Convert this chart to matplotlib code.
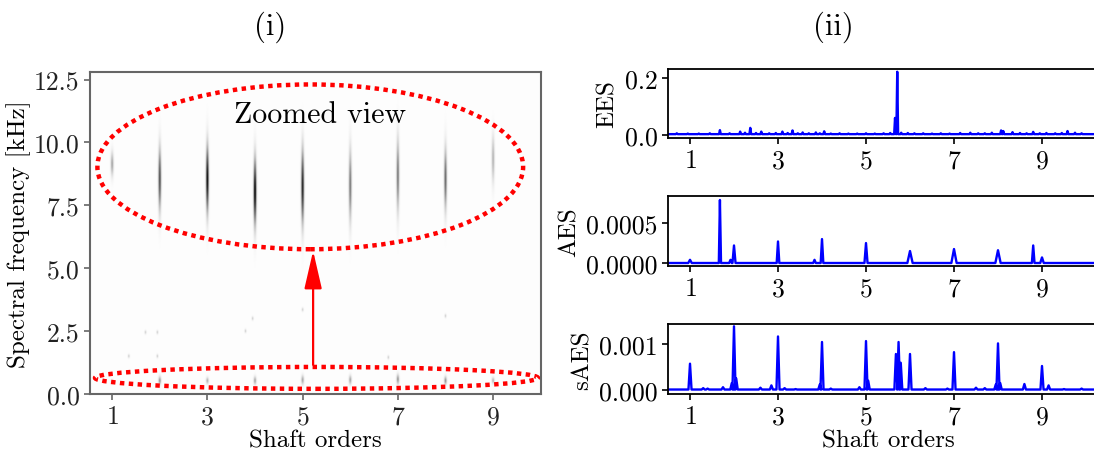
import numpy as np
import matplotlib
matplotlib.use('Agg')
import matplotlib.pyplot as plt
from matplotlib.patches import Ellipse

plt.rcParams['font.family'] = 'serif'
plt.rcParams['font.serif'] = ['cmr10']
plt.rcParams['mathtext.fontset'] = 'cm'
plt.rcParams['axes.formatter.use_mathtext'] = True
plt.rcParams['font.size'] = 18
plt.rcParams['xtick.labelsize'] = 18.5
plt.rcParams['ytick.labelsize'] = 18.5

# --- (i) spectral map: streaks at shaft orders ---
streak_order = [1, 2, 3, 4, 5, 6, 7, 8, 9]
streak_lo = [8.5, 6.9, 6.8, 6.3, 6.3, 6.4, 6.8, 6.9, 8.1]
streak_hi = [9.8, 10.2, 10.3, 9.8, 10.2, 10.2, 10.6, 10.2, 10.6]
streak_level = [0.45, 0.75, 0.95, 1.0, 0.9, 0.6, 0.6, 0.65, 0.4]

low_order = [1, 2, 3, 4, 5, 6, 7, 8, 9]
low_lo = [0.35, 0.3, 0.35, 0.3, 0.3, 0.3, 0.3, 0.3, 0.35]
low_hi = [0.6, 0.75, 0.7, 0.75, 0.8, 0.8, 0.85, 0.75, 0.7]
low_level = [0.25, 0.5, 0.4, 0.45, 0.45, 0.45, 0.5, 0.5, 0.4]

dot_x = [1.35, 1.7, 1.95, 1.95, 3.8, 3.95, 5.0, 6.8, 8.0]
dot_y = [1.5, 2.45, 2.45, 1.5, 2.5, 3.0, 3.35, 1.45, 3.1]

# --- (ii) spectra: peak positions and heights ---
ees_pos = [0.7, 0.95, 1.2, 1.45, 1.68, 1.9, 2.14, 2.25, 2.37, 2.5, 2.62, 2.8, 2.95, 3.1,
           3.22, 3.33, 3.45, 3.56, 3.7, 3.86, 3.95, 4.05, 4.2, 4.4, 4.6, 4.8, 5.0, 5.2,
           5.4, 5.55, 5.66, 5.71, 5.8, 5.95, 6.1, 6.3, 6.5, 6.7, 6.9, 7.14, 7.37, 7.55,
           7.7, 7.86, 8.07, 8.12, 8.33, 8.5, 8.65, 8.8, 8.95, 9.1, 9.3, 9.45, 9.58, 9.75, 9.9]
ees_h = [0.006, 0.005, 0.005, 0.006, 0.017, 0.006, 0.012, 0.008, 0.025, 0.007, 0.012, 0.006,
         0.007, 0.012, 0.007, 0.016, 0.006, 0.009, 0.006, 0.009, 0.006, 0.013, 0.005, 0.006,
         0.005, 0.005, 0.006, 0.005, 0.006, 0.007, 0.06, 0.222, 0.008, 0.007, 0.006, 0.006,
         0.005, 0.006, 0.005, 0.007, 0.008, 0.006, 0.006, 0.008, 0.016, 0.014, 0.01, 0.007,
         0.006, 0.011, 0.006, 0.007, 0.006, 0.007, 0.014, 0.008, 0.006]

aes_pos = [1.0, 1.68, 1.92, 2.0, 3.0, 3.83, 4.0, 5.0, 6.0, 7.0, 8.0, 8.8, 9.0]
aes_h = [0.00004, 0.00079, 0.00004, 0.00022, 0.00027, 0.00004, 0.0003, 0.00025,
         0.00015, 0.000175, 0.00016, 0.00022, 0.00007]
aes_w = [0.04, 0.025, 0.03, 0.035, 0.03, 0.03, 0.03, 0.035, 0.06, 0.06, 0.06, 0.03, 0.04]

saes_pos = [1.0, 1.3, 1.4, 1.75, 1.95, 2.0, 2.05, 2.6, 2.85, 3.0, 3.15, 3.4, 3.95, 4.0,
            4.2, 4.85, 5.0, 5.05, 5.68, 5.74, 5.79, 6.0, 6.35, 6.85, 7.0, 7.5, 7.7, 7.95,
            8.0, 8.05, 8.6, 9.0, 9.15, 9.5, 9.9]
saes_h = [0.00057, 0.00004, 0.00003, 0.00006, 0.00015, 0.00138, 0.00025, 0.00005, 0.0001,
          0.00116, 0.00004, 0.00002, 0.00012, 0.00104, 0.00003, 0.00006, 0.00106, 0.0002,
          0.00078, 0.00104, 0.00059, 0.00078, 0.00004, 0.00003, 0.00082, 0.00005, 0.00004,
          0.00012, 0.00101, 0.00015, 0.00013, 0.00052, 0.0001, 0.00002, 0.00003]


def peak_line(pos, h, w, x0=0.5, x1=10.5, base=0.0):
    # each peak becomes three vertices: foot, top, foot
    xs, ys = [x0], [base]
    for p, hh, ww in zip(pos, h, w):
        xs += [p - ww, p, p + ww]
        ys += [base, hh, base]
    xs.append(x1)
    ys.append(base)
    return xs, ys


fig = plt.figure(figsize=(10.94, 4.52), dpi=100)

# left panel
ax = fig.add_axes([90 / 1094, 1 - 395 / 452, 451 / 1094, 322 / 452])
xg = np.linspace(0.54, 10.0, 900)
yg = np.linspace(0, 12.8, 640)
X, Y = np.meshgrid(xg, yg)
img = np.full(X.shape, 0.012)
for o, lo, hi, lv in zip(streak_order, streak_lo, streak_hi, streak_level):
    yc, hy = (lo + hi) / 2, (hi - lo) / 2
    img += lv * np.exp(-((X - o) / 0.032) ** 2) * np.exp(-((Y - yc) / hy) ** 2 * 1.6)
for o, lo, hi, lv in zip(low_order, low_lo, low_hi, low_level):
    yc, hy = (lo + hi) / 2, (hi - lo) / 2
    img += lv * np.exp(-((X - o) / 0.03) ** 2) * np.exp(-((Y - yc) / hy) ** 2 * 1.6)
for dx, dy in zip(dot_x, dot_y):
    img += 0.3 * np.exp(-((X - dx) / 0.02) ** 2) * np.exp(-((Y - dy) / 0.08) ** 2)
ax.imshow(img, origin='lower', extent=[0.54, 10.0, 0, 12.8], aspect='auto',
          cmap='Greys', vmin=0, vmax=1, interpolation='bilinear')
ax.set_xlim(0.54, 10.0)
ax.set_ylim(0, 12.8)
ax.set_xticks([1, 3, 5, 7, 9])
ax.set_yticks([0.0, 2.5, 5.0, 7.5, 10.0, 12.5])
ax.set_yticklabels(['0.0', '2.5', '5.0', '7.5', '10.0', '12.5'])
for s in ax.spines.values():
    s.set_color('#666666')
    s.set_linewidth(1.5)
ax.tick_params(colors='#666666', labelcolor='#222222', width=1.2, length=4)
ax.set_xlabel('Shaft orders', labelpad=1)
ax.set_ylabel('Spectral frequency [kHz]', labelpad=2)

ax.add_patch(Ellipse((5.16, 9.03), 8.93, 6.55, fill=False, edgecolor='red',
                     lw=3.2, linestyle=(0, (1, 1))))
ax.add_patch(Ellipse((5.29, 0.64), 9.29, 0.87, fill=False, edgecolor='red',
                     lw=3.2, linestyle=(0, (1, 1))))
ax.annotate('', xy=(5.22, 5.8), xytext=(5.22, 1.05),
            arrowprops=dict(arrowstyle='-|>,head_width=0.3,head_length=1.3',
                            color='red', lw=1.6))
ax.text(5.37, 11.1, 'Zoomed view', ha='center', va='center', fontsize=21.5)

# right panels
right_x0 = 668 / 1094
right_w = 440 / 1094
panels = [
    ('EES', 70, 139, (-0.0105, 0.2316), [0.0, 0.2], ['0.0', '0.2']),
    ('AES', 197, 267, (-0.0000375, 0.00084), [0.0, 0.0005], ['0.0000', '0.0005']),
    ('sAES', 325, 395, (-0.000087, 0.00143), [0.0, 0.001], ['0.000', '0.001']),
]
series = [
    peak_line(ees_pos, ees_h, [0.02] * len(ees_pos), base=0.003),
    peak_line(aes_pos, aes_h, aes_w),
    peak_line(saes_pos, saes_h, [0.035] * len(saes_pos), base=0.00001),
]
for (name, top, bot, ylim, yt, ytl), (xs, ys) in zip(panels, series):
    a = fig.add_axes([right_x0, 1 - bot / 452, right_w, (bot - top) / 452])
    a.plot(xs, ys, color='blue', lw=1.7)
    a.set_xlim(0.5, 10.5)
    a.set_ylim(*ylim)
    a.set_xticks([1, 3, 5, 7, 9])
    a.set_yticks(yt)
    a.set_yticklabels(ytl)
    a.set_ylabel(name)
    for s in a.spines.values():
        s.set_linewidth(1.3)
    a.tick_params(width=1.2, length=4)
a.set_xlabel('Shaft orders', labelpad=1)

fig.text(270 / 1094, 1 - 27 / 452, '(i)', ha='center', va='center', fontsize=22)
fig.text(833 / 1094, 1 - 27 / 452, '(ii)', ha='center', va='center', fontsize=22)

fig.savefig('out.png', dpi=100)
